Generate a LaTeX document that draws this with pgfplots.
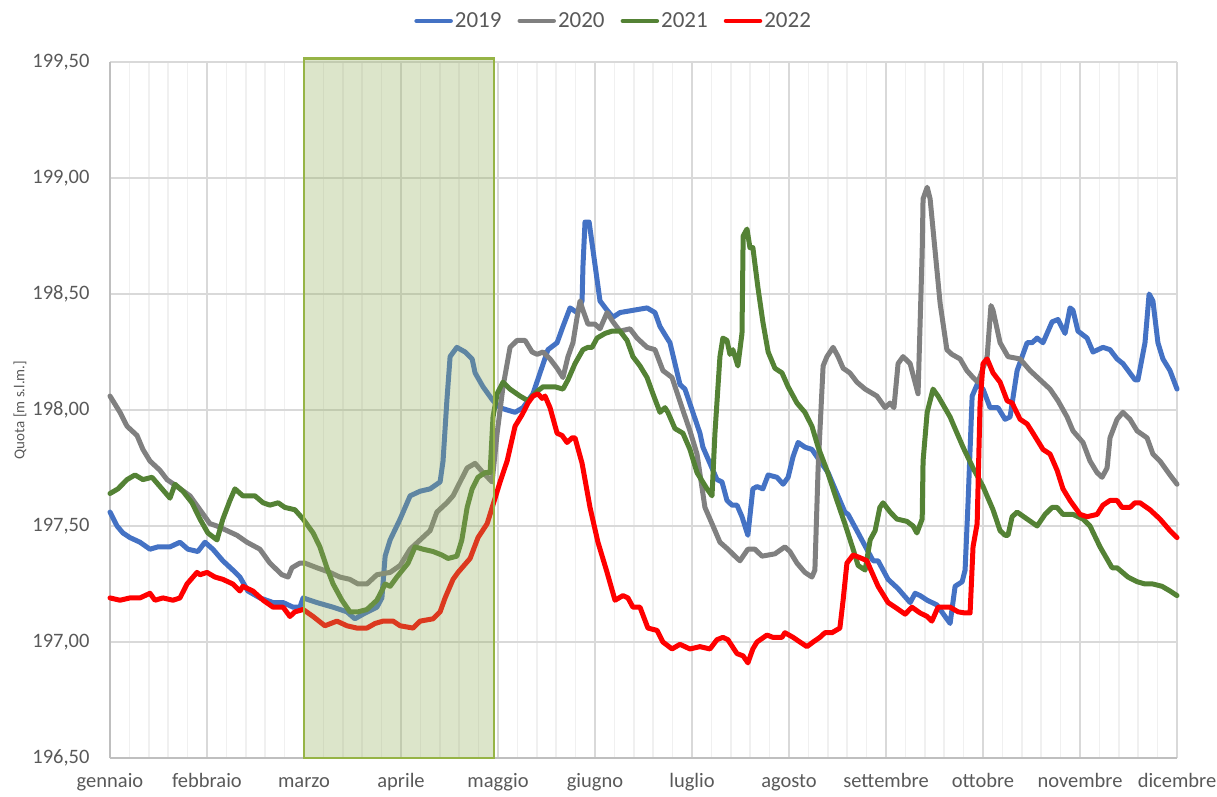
\documentclass[border=0pt]{standalone}
\usepackage{fontspec}
\setmainfont{Carlito}
\usepackage{pgfplots}
\pgfplotsset{compat=1.18}
\definecolor{c2019}{RGB}{68,114,196}
\definecolor{c2020}{RGB}{128,128,128}
\definecolor{c2021}{RGB}{84,130,53}
\definecolor{c2022}{RGB}{255,0,0}
\definecolor{gridmaj}{RGB}{217,217,217}
\definecolor{gridmin}{RGB}{240,240,240}
\definecolor{axisgray}{RGB}{191,191,191}
\definecolor{textgray}{RGB}{89,89,89}
\definecolor{olivefill}{RGB}{150,175,95}
\definecolor{olivebd}{RGB}{150,180,70}
\begin{document}
\begin{tikzpicture}
\path[use as bounding box] (-110pt,-39pt) rectangle (1107pt,758pt);
\begin{axis}[
  at={(0pt,0pt)}, anchor=south west,
  scale only axis, width=1067pt, height=696pt,
  xmin=0, xmax=363, ymin=196.5, ymax=199.5,
  clip=false,
  xtick={0,33,...,363},
  xticklabels={gennaio,febbraio,marzo,aprile,maggio,giugno,luglio,agosto,settembre,ottobre,novembre,dicembre},
  minor x tick num=4,
  ytick={196.5,197,197.5,198,198.5,199,199.5},
  yticklabels={{196,50},{197,00},{197,50},{198,00},{198,50},{199,00},{199,50}},
  xmajorgrids, xminorgrids, ymajorgrids,
  major grid style={draw=gridmaj, line width=1.5pt},
  minor grid style={draw=gridmin, line width=1.5pt},
  axis x line*=bottom, axis y line*=left,
  axis line style={draw=axisgray, line width=1.5pt, -},
  major tick length=0pt, minor tick length=0pt,
  tick style={draw=none},
  ticklabel style={font=\fontsize{20.5}{24}\selectfont, text=textgray},
  xticklabel style={yshift=-12pt, text height=14pt, text depth=4pt},
  yticklabel style={xshift=-17pt},
  ylabel={Quota [m s.l.m.]},
  ylabel style={at={(axis description cs:-0.0843,0.5)}, anchor=center, font=\fontsize{15}{18}\selectfont, text=textgray},
  legend style={at={(axis description cs:0.472,1.059)}, anchor=center, draw=none, fill=none,
    font=\fontsize{23}{27}\selectfont, text=textgray,
    /tikz/every even column/.append style={column sep=14pt}},
  legend columns=4,
  legend image code/.code={\draw[#1, line width=4.5pt] (0pt,0pt) -- (34pt,0pt);},
  every axis plot/.append style={line width=5pt, line join=round, line cap=round},
]
\addplot[c2019] coordinates {(0,197.56)(2.4,197.50)(4.4,197.47)(6.8,197.45)(10.2,197.43)(13.6,197.40)(16.3,197.41)(20.4,197.41)(23.8,197.43)(26.5,197.40)(29.9,197.39)(32.3,197.43)(35.0,197.40)(38.4,197.35)(41.8,197.31)(44.2,197.28)(46.9,197.22)(51.0,197.19)(55.5,197.17)(58.9,197.17)(62.3,197.15)(64.6,197.15)(65.7,197.19)(70.4,197.17)(75.9,197.15)(80.6,197.13)(83.3,197.10)(86.1,197.12)(90.8,197.15)(92.5,197.19)(93.6,197.37)(95.3,197.44)(98.7,197.53)(102.1,197.63)(105.5,197.65)(108.9,197.66)(112.3,197.69)(113.3,197.78)(114.6,198.04)(115.7,198.23)(118.0,198.27)(120.8,198.25)(123.2,198.22)(124.2,198.16)(126.9,198.10)(130.3,198.04)(132.7,198.01)(135.1,198.00)(137.8,197.99)(140.5,198.01)(143.9,198.07)(146.3,198.16)(149.0,198.26)(152.1,198.29)(154.1,198.36)(156.5,198.44)(158.9,198.42)(160.6,198.47)(160.9,198.62)(161.6,198.81)(163.0,198.81)(164.3,198.69)(166.7,198.47)(169.1,198.43)(171.1,198.40)(173.5,198.42)(182.7,198.44)(185.4,198.42)(187.1,198.36)(189.5,198.31)(190.5,198.29)(193.9,198.11)(195.6,198.09)(200.7,197.90)(201.7,197.84)(206.5,197.70)(208.2,197.69)(209.9,197.61)(211.6,197.59)(213.3,197.59)(215.0,197.54)(217.0,197.46)(218.7,197.66)(220.1,197.67)(222.1,197.66)(223.9,197.72)(226.9,197.71)(229.0,197.68)(230.7,197.71)(232.4,197.80)(234.1,197.86)(236.4,197.84)(238.8,197.83)(241.5,197.78)(244.3,197.73)(247.3,197.64)(250.0,197.56)(251.1,197.55)(254.1,197.48)(256.2,197.43)(259.6,197.35)(261.3,197.35)(264.7,197.27)(268.1,197.23)(272.2,197.17)(273.9,197.21)(275.6,197.20)(278.0,197.18)(281.3,197.16)(284.1,197.11)(285.8,197.08)(287.5,197.24)(289.9,197.26)(290.9,197.31)(291.9,197.60)(293.3,198.06)(295.0,198.11)(297.0,198.09)(299.4,198.01)(302.1,198.01)(304.5,197.96)(306.2,197.97)(308.6,198.17)(310.3,198.23)(312.0,198.29)(313.7,198.29)(315.4,198.31)(317.4,198.29)(320.5,198.38)(322.5,198.39)(324.9,198.33)(326.6,198.44)(327.6,198.43)(329.3,198.34)(332.4,198.31)(334.4,198.25)(337.8,198.27)(340.2,198.26)(342.6,198.22)(344.6,198.20)(348.7,198.13)(349.7,198.13)(352.1,198.29)(353.5,198.50)(354.8,198.47)(356.5,198.29)(358.2,198.22)(360.6,198.17)(363,198.09)};
\addlegendentry{2019}
\addplot[c2020] coordinates {(0,198.06)(3.4,197.99)(5.8,197.93)(9.2,197.89)(11.2,197.83)(13.6,197.78)(17.0,197.74)(19.4,197.70)(22.8,197.67)(27.2,197.63)(30.6,197.57)(34.0,197.51)(36.4,197.50)(39.8,197.48)(43.2,197.46)(46.6,197.43)(51.0,197.40)(54.4,197.34)(58.5,197.29)(60.6,197.28)(61.9,197.32)(64.6,197.34)(66.3,197.34)(70.4,197.32)(74.8,197.30)(78.2,197.28)(81.6,197.27)(84.4,197.25)(87.4,197.25)(90.8,197.29)(95.3,197.30)(98.7,197.33)(102.1,197.40)(105.5,197.44)(108.9,197.48)(111.2,197.56)(114.6,197.60)(116.7,197.63)(119.1,197.69)(121.5,197.75)(124.2,197.77)(126.9,197.73)(130.0,197.69)(131.7,197.90)(133.7,198.10)(136.1,198.27)(138.5,198.30)(141.2,198.30)(143.6,198.25)(145.3,198.24)(147.3,198.25)(149.7,198.22)(152.1,198.18)(154.1,198.14)(155.8,198.23)(157.5,198.29)(158.9,198.40)(159.9,198.47)(160.9,198.43)(162.6,198.37)(165.0,198.37)(166.7,198.35)(169.1,198.42)(171.1,198.38)(173.5,198.34)(176.9,198.35)(179.3,198.31)(182.7,198.27)(185.4,198.26)(188.1,198.17)(191.2,198.14)(194.6,198.01)(197.3,197.91)(199.7,197.81)(202.4,197.58)(204.8,197.51)(207.5,197.43)(210.2,197.40)(212.6,197.37)(214.3,197.35)(217.0,197.40)(219.4,197.40)(221.8,197.37)(226.2,197.38)(229.6,197.41)(231.3,197.39)(233.7,197.34)(236.4,197.30)(238.8,197.28)(239.8,197.31)(240.9,197.75)(242.6,198.19)(243.9,198.23)(246.0,198.27)(247.7,198.23)(249.4,198.18)(251.7,198.16)(254.1,198.12)(256.9,198.09)(260.9,198.06)(263.7,198.01)(265.4,198.03)(266.7,198.01)(268.1,198.20)(269.8,198.23)(272.2,198.20)(274.9,198.07)(276.3,198.68)(276.6,198.91)(278.0,198.96)(279.0,198.91)(282.4,198.46)(284.7,198.26)(286.4,198.24)(289.2,198.22)(291.5,198.17)(293.6,198.14)(295.3,198.12)(296.7,198.17)(298.4,198.23)(299.7,198.45)(300.4,198.43)(302.8,198.29)(305.5,198.23)(309.6,198.22)(313.0,198.17)(316.4,198.13)(319.8,198.09)(322.5,198.04)(325.6,197.97)(327.6,197.91)(331.0,197.86)(333.4,197.78)(335.8,197.73)(337.5,197.71)(339.2,197.75)(340.2,197.88)(342.6,197.96)(344.6,197.99)(347.0,197.96)(349.4,197.91)(352.8,197.88)(354.8,197.81)(357.2,197.78)(360.6,197.72)(363,197.68)};
\addlegendentry{2020}
\addplot[c2021] coordinates {(0,197.64)(2.7,197.66)(5.8,197.70)(8.5,197.72)(11.2,197.70)(14.3,197.71)(17.7,197.66)(20.4,197.62)(22.1,197.68)(24.8,197.65)(27.9,197.60)(30.6,197.53)(33.3,197.47)(36.4,197.44)(38.4,197.53)(40.8,197.61)(42.5,197.66)(45.2,197.63)(49.3,197.63)(52.1,197.60)(54.4,197.59)(57.2,197.60)(59.5,197.58)(62.9,197.57)(65.7,197.53)(69.1,197.47)(71.4,197.41)(73.8,197.32)(75.9,197.25)(78.9,197.18)(81.6,197.13)(84.4,197.13)(87.4,197.14)(90.8,197.18)(93.6,197.25)(95.3,197.24)(97.6,197.28)(101.4,197.34)(103.8,197.41)(106.5,197.40)(109.9,197.39)(112.9,197.375)(115.0,197.36)(118.0,197.37)(119.7,197.44)(121.5,197.58)(123.2,197.66)(125.2,197.71)(127.6,197.73)(129.3,197.73)(130.3,197.97)(131.7,198.07)(133.7,198.12)(136.1,198.09)(139.5,198.06)(142.2,198.04)(145.3,198.08)(147.3,198.10)(151.4,198.10)(154.1,198.09)(155.8,198.13)(158.2,198.20)(160.9,198.26)(162.6,198.27)(164.0,198.27)(165.7,198.31)(168.4,198.33)(170.8,198.34)(173.5,198.34)(175.9,198.30)(177.9,198.23)(180.3,198.19)(182.7,198.14)(184.7,198.07)(187.1,197.99)(188.8,198.01)(189.8,197.99)(192.2,197.92)(194.9,197.90)(197.3,197.83)(199.7,197.73)(203.1,197.66)(204.8,197.63)(205.8,197.90)(207.5,198.23)(208.5,198.31)(209.9,198.30)(210.9,198.24)(211.9,198.26)(213.6,198.19)(215.0,198.33)(215.4,198.75)(216.7,198.78)(217.7,198.70)(218.7,198.70)(220.4,198.53)(222.1,198.38)(223.9,198.25)(226.2,198.18)(228.6,198.16)(230.7,198.10)(233.7,198.03)(236.4,197.99)(238.8,197.93)(240.9,197.84)(243.9,197.74)(247.3,197.61)(250.0,197.51)(252.8,197.40)(254.5,197.33)(256.9,197.31)(258.6,197.44)(260.3,197.48)(261.9,197.58)(263.0,197.60)(265.4,197.56)(267.7,197.53)(271.1,197.52)(273.2,197.50)(274.5,197.47)(276.3,197.53)(276.6,197.78)(278.0,197.99)(280.0,198.09)(281.7,198.06)(285.8,197.97)(286.8,197.94)(290.2,197.84)(293.6,197.75)(297.0,197.67)(300.4,197.57)(302.8,197.48)(304.5,197.46)(305.5,197.46)(306.9,197.54)(308.6,197.56)(312.0,197.53)(315.4,197.50)(318.1,197.55)(320.5,197.58)(322.2,197.58)(324.2,197.55)(327.6,197.55)(331.0,197.53)(333.4,197.50)(336.8,197.41)(340.9,197.32)(342.6,197.32)(346.3,197.28)(349.4,197.26)(352.1,197.25)(354.8,197.25)(357.9,197.24)(360.6,197.22)(363,197.20)};
\addlegendentry{2021}
\addplot[c2022] coordinates {(0,197.19)(3.4,197.18)(6.8,197.19)(10.2,197.19)(13.6,197.21)(15.3,197.18)(18.0,197.19)(21.4,197.18)(23.8,197.19)(26.2,197.25)(29.6,197.30)(30.6,197.29)(33.0,197.30)(35.7,197.28)(38.4,197.27)(41.8,197.25)(44.2,197.22)(45.2,197.24)(48.6,197.22)(52.1,197.18)(55.5,197.15)(58.9,197.15)(61.2,197.11)(62.9,197.13)(65.7,197.14)(69.1,197.11)(73.1,197.07)(77.2,197.09)(80.6,197.07)(84.0,197.06)(87.4,197.06)(90.2,197.08)(92.9,197.09)(96.3,197.09)(98.7,197.07)(103.1,197.06)(105.5,197.09)(109.9,197.10)(112.3,197.13)(114.0,197.19)(116.7,197.27)(118.4,197.30)(122.5,197.36)(125.2,197.45)(128.3,197.51)(131.0,197.62)(132.7,197.69)(135.1,197.78)(137.8,197.93)(140.2,197.98)(142.2,198.03)(143.9,198.06)(145.6,198.07)(147.0,198.05)(148.0,198.06)(149.7,198.01)(152.1,197.90)(153.8,197.89)(155.5,197.86)(157.2,197.88)(158.2,197.88)(160.6,197.77)(163.3,197.58)(166.0,197.43)(169.1,197.30)(171.8,197.18)(174.5,197.20)(176.2,197.19)(177.9,197.15)(180.3,197.15)(183.0,197.06)(186.1,197.05)(188.1,197.00)(191.2,196.97)(193.9,196.99)(197.3,196.97)(200.7,196.98)(204.1,196.97)(206.5,197.01)(208.5,197.02)(210.2,197.01)(213.3,196.95)(215.4,196.94)(217.0,196.91)(218.7,196.97)(220.1,197.00)(223.5,197.03)(225.5,197.02)(228.6,197.02)(229.6,197.04)(232.4,197.02)(234.7,197.00)(237.1,196.98)(239.2,197.00)(241.5,197.02)(243.2,197.04)(245.6,197.04)(248.3,197.06)(249.4,197.18)(250.7,197.34)(252.8,197.375)(255.8,197.36)(257.5,197.35)(259.2,197.30)(261.3,197.24)(264.7,197.17)(267.1,197.15)(270.5,197.12)(272.8,197.15)(275.6,197.125)(278.0,197.11)(279.6,197.09)(281.7,197.15)(285.8,197.15)(288.5,197.13)(290.9,197.125)(292.6,197.125)(293.6,197.41)(295.0,197.51)(296.0,198.03)(297.0,198.20)(298.4,198.22)(300.4,198.16)(302.8,198.12)(305.2,198.04)(306.9,198.03)(309.6,197.96)(312.0,197.94)(314.0,197.90)(317.4,197.83)(319.8,197.81)(322.2,197.74)(324.2,197.66)(326.6,197.61)(330.0,197.55)(332.4,197.54)(335.8,197.55)(337.8,197.59)(340.2,197.61)(342.6,197.61)(344.3,197.58)(347.0,197.58)(348.7,197.60)(350.4,197.60)(353.8,197.57)(357.2,197.53)(360.6,197.48)(363,197.45)};
\addlegendentry{2022}
\addplot[forget plot, draw=olivebd, line width=2.5pt, line join=miter, fill=olivefill, fill opacity=0.33] coordinates {(66,196.5)(130.6,196.5)(130.6,199.515)(66,199.515)(66,196.5)} -- cycle;
\end{axis}
\end{tikzpicture}
\end{document}
